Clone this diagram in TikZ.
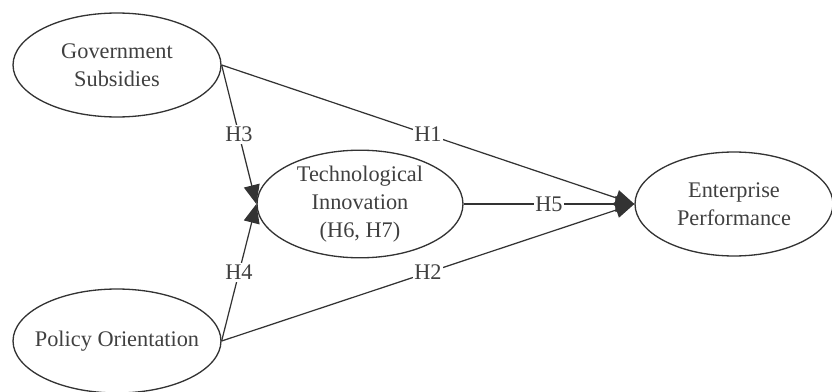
\documentclass[tikz,border=0pt]{standalone}
\usepackage{fontspec}
\setmainfont{Liberation Serif}
\usetikzlibrary{shapes.geometric,arrows.meta}
\tikzset{
  construct/.style={ellipse, draw=black!80, line width=0.75pt, inner sep=0pt,
    minimum width=4.16cm, minimum height=2.08cm, align=center, text=black!75,
    font=\fontsize{12.7}{15.9}\selectfont},
  path/.style={-{Triangle[length=0.38cm,width=0.32cm]}, draw=black!80, line width=0.7pt},
  hyp/.style={midway, fill=white, inner sep=1pt, text=black!75,
    font=\fontsize{12.7}{15.9}\selectfont}
}
\begin{document}
\begin{tikzpicture}[x=0.02cm,y=-0.02cm]
\useasboundingbox (0,0) rectangle (832,392);
\node[construct] (gs) at (117,65) {Government\\Subsidies};
\node[construct, inner xsep=-0.2cm] (po) at (117,341) {Policy Orientation};
\node[construct, minimum width=4.12cm, minimum height=2.04cm] (ti) at (360,204) {Technological\\Innovation\\(H6, H7)};
\node[construct, minimum width=3.96cm] (ep) at (734,204) {Enterprise\\Performance};

\draw[path] (gs.east) -- (ep.west) node [hyp] {H1};
\draw[path] (po.east) -- (ep.west) node [hyp] {H2};
\draw[path] (gs.east) -- (ti.west) node [hyp] {H3};
\draw[path] (po.east) -- (ti.west) node [hyp] {H4};
\draw[path] (ti.east) -- (ep.west) node [hyp] {H5};
\end{tikzpicture}
\end{document}
